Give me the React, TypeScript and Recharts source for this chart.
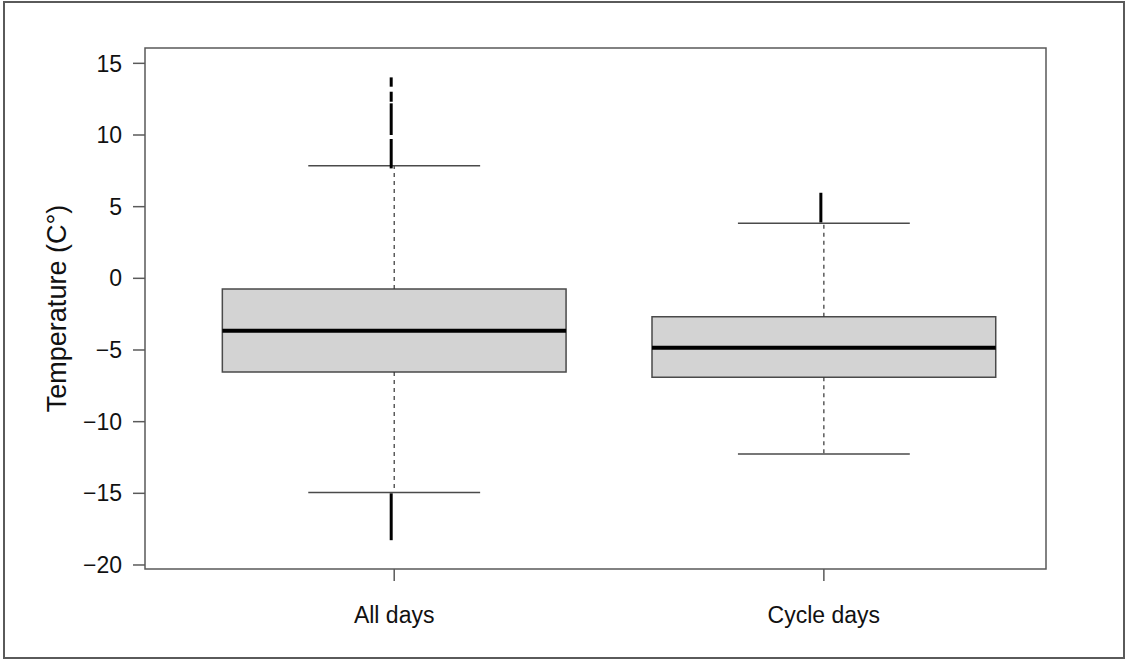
import React from 'react';
import {
  ComposedChart,
  Scatter,
  XAxis,
  YAxis,
  ReferenceArea,
  ReferenceLine,
} from 'recharts';

// five-number summaries per group
const groups = ['All days', 'Cycle days'];
const upperWhisker = [7.85, 3.84];
const q3 = [-0.75, -2.68];
const medians = [-3.65, -4.85];
const q1 = [-6.53, -6.91];
const lowerWhisker = [-14.95, -12.25];

// runs of outlying points (densely packed, so they read as strokes)
const outlierGroup = [0, 0, 0, 0, 0, 1];
const outlierFrom = [14.02, 13.02, 12.21, 9.72, -15.0, 5.97];
const outlierTo = [13.37, 12.32, 10.0, 7.67, -18.27, 3.9];

const yTicks = [-20, -15, -10, -5, 0, 5, 10, 15];
const xDomain: [number, number] = [0.42, 2.517];
const yDomain: [number, number] = [-20.28, 16.07];

const BOX_HALF = 0.4;
const CAP_HALF = 0.2;
const FRAME = '#5a5a5a';
const FONT = '"Liberation Sans", Arial, sans-serif';

const centers = groups.map((name, i) => ({ name, x: i + 1, y: medians[i] }));

function YLabel({ viewBox }: any) {
  const cy = viewBox.y + viewBox.height / 2;
  return (
    <text
      x={66}
      y={cy}
      transform={`rotate(-90, 66, ${cy})`}
      textAnchor="middle"
      style={{ fontSize: 27, fontFamily: FONT }}
      fill="#111"
    >
      Temperature (C°)
    </text>
  );
}

export default function App() {
  return (
    <div style={{ position: 'relative', width: 1125, height: 659, background: '#fff' }}>
      <style>{'body{margin:0}'}</style>
      <div
        style={{
          position: 'absolute',
          left: 3,
          top: 1,
          width: 1118,
          height: 654,
          border: `2px solid ${FRAME}`,
        }}
      />
      <div style={{ position: 'absolute', left: 0, top: 0 }}>
        <ComposedChart
          width={1125}
          height={659}
          margin={{ top: 48, right: 79, bottom: 30, left: 0 }}
        >
          <XAxis
            type="number"
            dataKey="x"
            domain={xDomain}
            ticks={[1, 2]}
            allowDataOverflow
            tickFormatter={(v) => groups[v - 1] ?? ''}
            axisLine={false}
            tickLine={{ stroke: FRAME, strokeWidth: 1.5 }}
            tickSize={12}
            tickMargin={26}
            height={60}
            tick={{ fontSize: 23, fontFamily: FONT, fill: '#111' }}
          />
          <YAxis
            type="number"
            dataKey="y"
            domain={yDomain}
            ticks={yTicks}
            allowDataOverflow
            tickFormatter={(v) => String(v).replace('-', '\u2212')}
            axisLine={false}
            tickLine={{ stroke: FRAME, strokeWidth: 1.5 }}
            tickSize={12}
            tickMargin={11}
            width={145}
            tick={{ fontSize: 23, fontFamily: FONT, fill: '#111' }}
            label={<YLabel />}
          />

          {/* plot frame */}
          <ReferenceArea
            x1={xDomain[0]}
            x2={xDomain[1]}
            y1={yDomain[0]}
            y2={yDomain[1]}
            fill="none"
            stroke={FRAME}
            strokeWidth={1.5}
            ifOverflow="visible"
          />

          {groups.map((g, i) => (
            <ReferenceArea
              key={`box-${g}`}
              x1={i + 1 - BOX_HALF}
              x2={i + 1 + BOX_HALF}
              y1={q1[i]}
              y2={q3[i]}
              fill="#d3d3d3"
              fillOpacity={1}
              stroke="#4a4a4a"
              strokeWidth={1.5}
            />
          ))}
          {groups.map((g, i) => (
            <ReferenceLine
              key={`med-${g}`}
              segment={[
                { x: i + 1 - BOX_HALF, y: medians[i] },
                { x: i + 1 + BOX_HALF, y: medians[i] },
              ]}
              stroke="#000"
              strokeWidth={4}
            />
          ))}
          {groups.map((g, i) => (
            <ReferenceLine
              key={`wu-${g}`}
              segment={[
                { x: i + 1, y: q3[i] },
                { x: i + 1, y: upperWhisker[i] },
              ]}
              stroke="#333"
              strokeWidth={1.2}
              strokeDasharray="4 4"
            />
          ))}
          {groups.map((g, i) => (
            <ReferenceLine
              key={`wl-${g}`}
              segment={[
                { x: i + 1, y: q1[i] },
                { x: i + 1, y: lowerWhisker[i] },
              ]}
              stroke="#333"
              strokeWidth={1.2}
              strokeDasharray="4 4"
            />
          ))}
          {groups.map((g, i) => (
            <ReferenceLine
              key={`cu-${g}`}
              segment={[
                { x: i + 1 - CAP_HALF, y: upperWhisker[i] },
                { x: i + 1 + CAP_HALF, y: upperWhisker[i] },
              ]}
              stroke="#4a4a4a"
              strokeWidth={1.5}
            />
          ))}
          {groups.map((g, i) => (
            <ReferenceLine
              key={`cl-${g}`}
              segment={[
                { x: i + 1 - CAP_HALF, y: lowerWhisker[i] },
                { x: i + 1 + CAP_HALF, y: lowerWhisker[i] },
              ]}
              stroke="#4a4a4a"
              strokeWidth={1.5}
            />
          ))}
          {outlierGroup.map((gi, k) => (
            <ReferenceLine
              key={`out-${k}`}
              segment={[
                { x: gi + 1 - 0.007, y: outlierFrom[k] },
                { x: gi + 1 - 0.007, y: outlierTo[k] },
              ]}
              stroke="#000"
              strokeWidth={3}
            />
          ))}

          <Scatter
            data={centers}
            dataKey="y"
            shape={() => null}
            isAnimationActive={false}
          />
        </ComposedChart>
      </div>
    </div>
  );
}
